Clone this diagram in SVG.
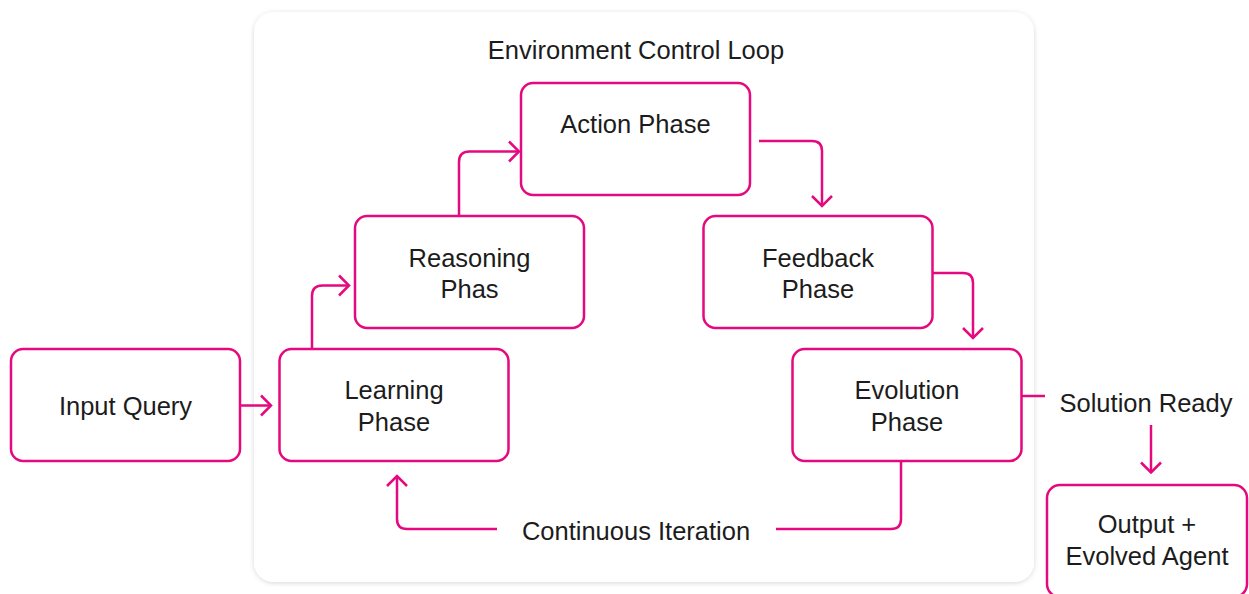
<svg xmlns="http://www.w3.org/2000/svg" width="1249" height="594" viewBox="0 0 1249 594">
<defs>
<style>
.node{fill:#ffffff;stroke:#E5097F;stroke-width:2.5}
.conn{fill:none;stroke:#E5097F;stroke-width:2.5}
.lbl{font-family:"Liberation Sans",Arial,Helvetica,sans-serif;font-size:25.5px;fill:#1c1c1c;text-anchor:middle}
</style>
<filter id="shadow" x="-5%" y="-5%" width="110%" height="110%">
<feDropShadow dx="0" dy="1" stdDeviation="2.5" flood-color="#000000" flood-opacity="0.16"/>
</filter>
<marker id="arr" markerUnits="userSpaceOnUse" viewBox="-12 -12 24 24" markerWidth="24" markerHeight="24" refX="0" refY="0" orient="auto" overflow="visible">
<path d="M-10,-10 L0,0 L-10,10" fill="none" stroke="#E5097F" stroke-width="2.5"/>
</marker>
</defs>
<rect width="1249" height="594" fill="#ffffff"/>
<g id="container">
<rect x="254" y="12" width="780" height="570" rx="20" fill="#ffffff" filter="url(#shadow)"/>
<text class="lbl" x="636" y="59">Environment Control Loop</text>
</g>
<g id="connectors">
<path class="conn" d="M240 405.5 H271" marker-end="url(#arr)"/>
<path class="conn" d="M312 349 V296 Q312 285.5 322.5 285.5 H349" marker-end="url(#arr)"/>
<path class="conn" d="M459 216 V162 Q459 151.5 469.5 151.5 H519" marker-end="url(#arr)"/>
<path class="conn" d="M759 141 H812 Q822 141 822 151 V206" marker-end="url(#arr)"/>
<path class="conn" d="M932.5 273 H963 Q973 273 973 283 V338" marker-end="url(#arr)"/>
<path class="conn" d="M1021.5 396 H1045"/>
<path class="conn" d="M1151 425 V472.5" marker-end="url(#arr)"/>
<path class="conn" d="M901 461 V519 Q901 529 891 529 H776"/>
<path class="conn" d="M497 529 H407 Q397 529 397 519 V476" marker-end="url(#arr)"/>
<text class="lbl" x="1146" y="411.5">Solution Ready</text>
<text class="lbl" x="636" y="540">Continuous Iteration</text>
</g>
<g id="input-query">
<rect class="node" x="11" y="349" width="229" height="112" rx="12"/>
<text class="lbl" x="125.5" y="414.5">Input Query</text>
</g>
<g id="learning-phase">
<rect class="node" x="279.5" y="349" width="229" height="112" rx="12"/>
<text class="lbl" x="394" y="398.5">Learning</text>
<text class="lbl" x="394" y="430.5">Phase</text>
</g>
<g id="reasoning-phase">
<rect class="node" x="355" y="216" width="229" height="112" rx="12"/>
<text class="lbl" x="469.5" y="266.5">Reasoning</text>
<text class="lbl" x="469.5" y="298">Phas</text>
</g>
<g id="action-phase">
<rect class="node" x="521" y="83" width="229" height="112" rx="12"/>
<text class="lbl" x="635.5" y="133">Action Phase</text>
</g>
<g id="feedback-phase">
<rect class="node" x="703.5" y="216" width="229" height="112" rx="12"/>
<text class="lbl" x="818" y="266.5">Feedback</text>
<text class="lbl" x="818" y="298">Phase</text>
</g>
<g id="evolution-phase">
<rect class="node" x="792.5" y="349" width="229" height="112" rx="12"/>
<text class="lbl" x="907" y="398.5">Evolution</text>
<text class="lbl" x="907" y="430.5">Phase</text>
</g>
<g id="output">
<rect class="node" x="1047" y="485" width="200" height="112" rx="13"/>
<text class="lbl" x="1147" y="533">Output +</text>
<text class="lbl" x="1147" y="565">Evolved Agent</text>
</g>
</svg>
